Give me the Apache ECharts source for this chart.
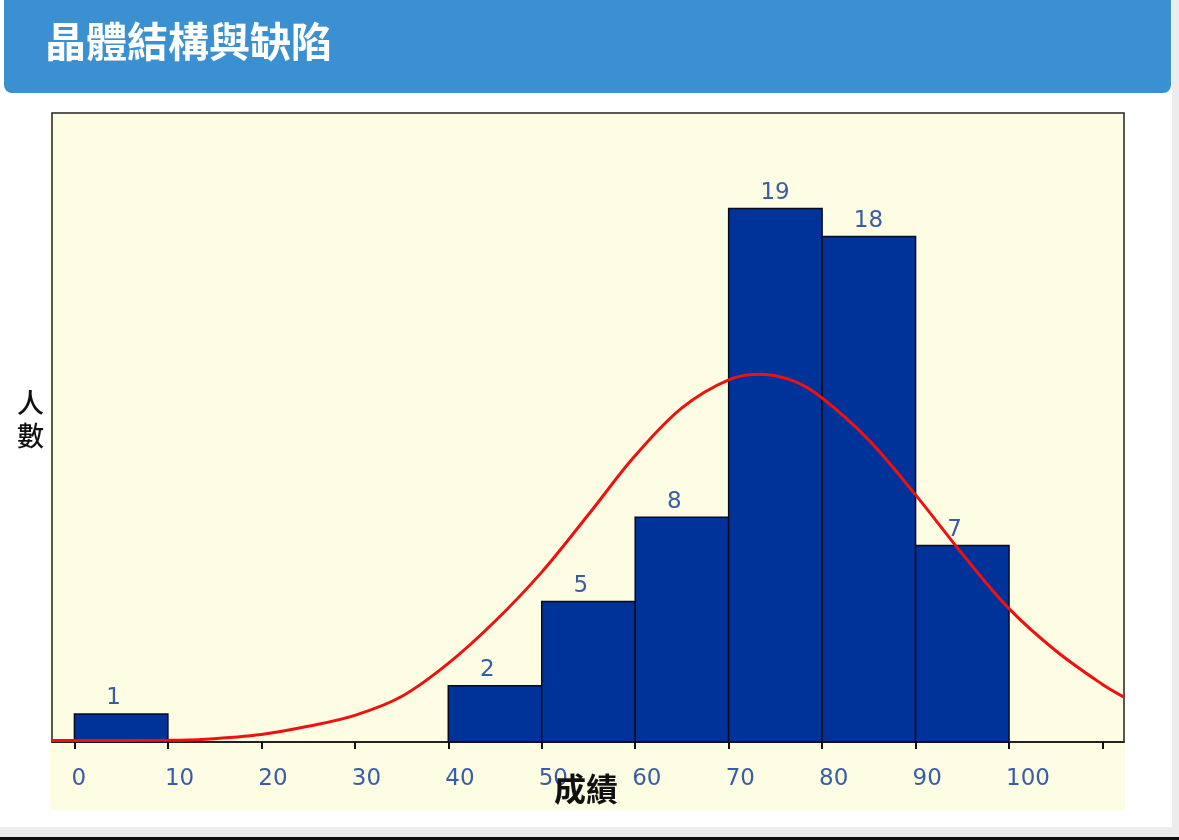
<!DOCTYPE html>
<html>
<head>
    <meta charset="utf-8">
    <title>晶體結構與缺陷</title>
    <script src="https://cdn.jsdelivr.net/npm/echarts@6.0.0/dist/echarts.min.js"></script>
    <style>
        html, body { margin: 0; padding: 0; background: #fff; }
    </style>
</head>
<body>
    <div id="main" style="width:1179px;height:840px;"></div>
    <script type="text/javascript">
        var myChart = echarts.init(document.getElementById('main'));

        // histogram bins: [from, to] and counts
        var binStart = [0, 40, 50, 60, 70, 80, 90];
        var binEnd   = [10, 50, 60, 70, 80, 90, 100];
        var counts   = [1, 2, 5, 8, 19, 18, 7];

        // red fitted curve
        var curveX = [-2.4, 0, 10, 14, 20, 25, 30, 35, 40, 45, 50, 55, 60, 65, 70, 73.4,
                      77, 80, 85, 90, 95, 100, 105, 110, 112.3];
        var curveY = [0.05, 0.05, 0.06, 0.1, 0.27, 0.56, 0.95, 1.62, 2.8, 4.3, 6.05, 8.1, 10.2, 11.9, 12.9, 13.1,
                      12.85, 12.25, 10.75, 8.8, 6.7, 4.75, 3.25, 2.05, 1.6];

        var tickValues  = [0, 10, 20, 30, 40, 50, 60, 70, 80, 90, 100, 110];
        var labelValues = [0, 10, 20, 30, 40, 50, 60, 70, 80, 90, 100];

        var barData = binStart.map(function (s, i) {
            return [s, binEnd[i], counts[i]];
        });
        var curveData = curveX.map(function (x, i) {
            return [x, curveY[i]];
        });

        var labelColor = '#3a5ca8';

        var option = {
            animation: false,
            backgroundColor: '#fff',
            graphic: [
                // light grey page edges
                { type: 'rect', z: -10, shape: { x: 1172, y: 0, width: 7, height: 840 }, style: { fill: '#ececec' } },
                { type: 'rect', z: -10, shape: { x: 0, y: 827, width: 1179, height: 10 }, style: { fill: '#ececec' } },
                { type: 'rect', z: -10, shape: { x: 0, y: 837, width: 1179, height: 3 }, style: { fill: '#111' } },
                // title bar
                { type: 'rect', z: -5, shape: { x: 4, y: -10, width: 1167, height: 103, r: 8 }, style: { fill: '#3a90d1' } },
                {
                    type: 'text', left: 45, top: 21, z: 10,
                    style: {
                        text: '晶體結構與缺陷', fill: '#fff',
                        font: 'bold 41px "Noto Sans CJK TC", "Noto Sans", sans-serif'
                    }
                },
                // yellow panel behind plot and labels
                { type: 'rect', z: -6, shape: { x: 50, y: 113, width: 1075, height: 697 }, style: { fill: '#fdfde4' } },
                {
                    type: 'text', left: 17, top: 386, z: 10,
                    style: {
                        text: '人\n數', fill: '#111', lineHeight: 33,
                        font: '500 27px "Noto Sans CJK TC", sans-serif'
                    }
                },
                {
                    type: 'text', left: 554, top: 773, z: 10,
                    style: {
                        text: '成績', fill: '#111',
                        font: 'bold 32px "Noto Sans CJK TC", sans-serif'
                    }
                }
            ],
            grid: {
                left: 52, top: 113, right: 55, bottom: 98,
                show: true,
                backgroundColor: 'transparent',
                borderColor: '#222',
                borderWidth: 1.5
            },
            xAxis: {
                type: 'value',
                min: -2.4,
                max: 112.3,
                axisLine: { show: true, lineStyle: { color: '#111', width: 1.5 } },
                axisTick: {
                    show: true, length: 7, inside: false,
                    customValues: tickValues,
                    lineStyle: { color: '#111', width: 2 }
                },
                axisLabel: {
                    customValues: labelValues,
                    color: labelColor,
                    fontSize: 23,
                    fontFamily: 'DejaVu Sans',
                    align: 'left',
                    padding: [0, 0, 0, -3],
                    margin: 26
                },
                splitLine: { show: false }
            },
            yAxis: {
                type: 'value',
                min: 0,
                max: 22.4,
                axisLine: { show: false },
                axisTick: { show: false },
                axisLabel: { show: false },
                splitLine: { show: false }
            },
            series: [
                {
                    type: 'custom',
                    z: 2,
                    data: barData,
                    encode: { x: [0, 1], y: 2 },
                    renderItem: function (params, api) {
                        var p0 = api.coord([api.value(0), api.value(2)]);
                        var p1 = api.coord([api.value(1), 0]);
                        return {
                            type: 'group',
                            children: [
                                {
                                    type: 'rect',
                                    shape: { x: p0[0], y: p0[1], width: p1[0] - p0[0], height: p1[1] - p0[1] },
                                    style: { fill: '#003399', stroke: '#0a0a1e', lineWidth: 1.5 }
                                },
                                {
                                    type: 'text',
                                    z2: 20,
                                    style: {
                                        text: String(api.value(2)),
                                        x: (p0[0] + p1[0]) / 2 - 15,
                                        y: p0[1] - 4,
                                        align: 'left',
                                        verticalAlign: 'bottom',
                                        fill: labelColor,
                                        font: '23px "DejaVu Sans"'
                                    }
                                }
                            ]
                        };
                    }
                },
                {
                    type: 'line',
                    z: 5,
                    data: curveData,
                    smooth: 0.35,
                    showSymbol: false,
                    symbol: 'none',
                    lineStyle: { color: '#ee1111', width: 3 }
                }
            ]
        };

        myChart.setOption(option);
    </script>
</body>
</html>
